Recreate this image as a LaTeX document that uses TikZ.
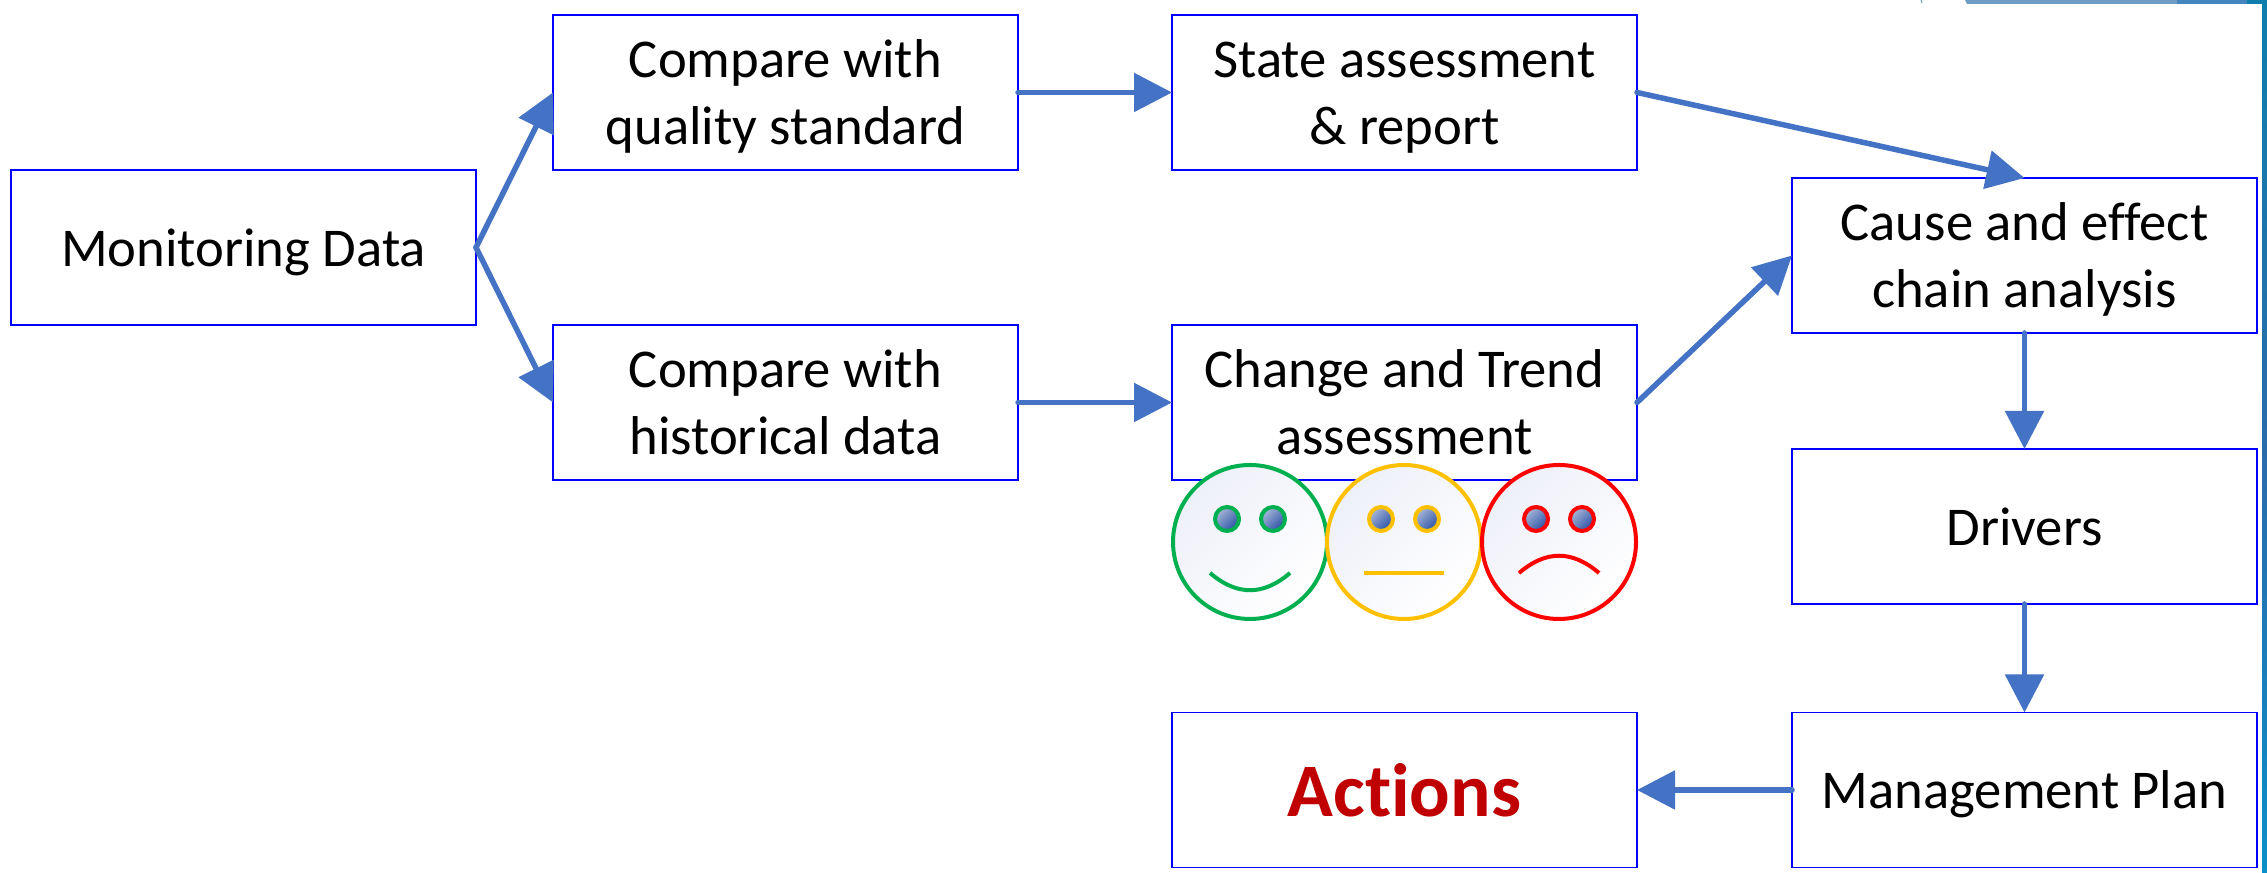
\documentclass[tikz,border=0pt]{standalone}
\usepackage{fontspec}
\setmainfont{Carlito}[Ligatures=NoCommon]
\usepackage{tikz}
\usetikzlibrary{arrows.meta}

\definecolor{flowblue}{HTML}{4472C4}
\definecolor{goodgreen}{HTML}{00B050}
\definecolor{midamber}{HTML}{FFC000}
\definecolor{actionred}{HTML}{C00000}
\definecolor{faceshade}{HTML}{EEF0F8}
\definecolor{eyelight}{HTML}{A9B8D8}
\definecolor{eyeblue}{HTML}{2A50A5}

% keep the baselines of all boxes at the same height
\newcommand{\uppad}{\rule{0pt}{14.6pt}}
\newcommand{\lowpad}{\rule[-4pt]{0pt}{4pt}}

\begin{document}
\begin{tikzpicture}
        \tikzstyle{stagebox}=[draw=blue,line width=0.015cm,fill=white,outer sep=0pt,inner sep=0pt,minimum width=4.65cm,minimum height=1.55cm,align=center,font=\fontsize{15.55}{18.9}\selectfont]
        \tikzstyle{flow}=[-{Triangle[length=0.38cm,width=0.38cm]},flowblue,line width=0.055cm,line cap=round]
        \useasboundingbox (0,0) rectangle (22.67,8.73);

        % window edge left over in the screenshot
        \fill[fill=white] (0,0) rectangle (22.67,8.73);
        \fill[color={rgb,255:red,111;green,156;blue,197}] (19.65,8.73) -- (19.67,8.69) -- (21.77,8.69) -- (21.77,8.73) -- cycle;
        \fill[color={rgb,255:red,69;green,133;blue,191}] (21.77,8.69) rectangle (22.47,8.73);
        \fill[color={rgb,255:red,14;green,127;blue,172}] (22.47,8.69) rectangle (22.67,8.73);
        \draw[color={rgb,255:red,111;green,156;blue,197},line width=0.01cm] (19.21,8.73) -- (19.22,8.70);
        \shade[top color={rgb,255:red,14;green,127;blue,172},middle color={rgb,255:red,80;green,134;blue,191},bottom color={rgb,255:red,42;green,106;blue,171}] (22.62,4.2) rectangle (22.67,8.69);
        \shade[top color={rgb,255:red,42;green,106;blue,171},bottom color={rgb,255:red,10;green,143;blue,200}] (22.62,0) rectangle (22.67,4.2);

        \node[stagebox] (data) at (2.435,6.255) {\uppad Monitoring Data\lowpad};
        \node[stagebox] (quality) at (7.855,7.805) {\uppad Compare with\\quality standard\lowpad};
        \node[stagebox] (history) at (7.855,4.705) {\uppad Compare with\\historical data\lowpad};
        \node[stagebox] (state) at (14.045,7.805) {\uppad State assessment\\\&\ report\lowpad};
        \node[stagebox] (trend) at (14.045,4.705) {\uppad Change and Trend\\assessment\lowpad};
        \node[stagebox] (cause) at (20.245,6.175) {\uppad Cause and effect\\chain analysis\lowpad};
        \node[stagebox] (drivers) at (20.245,3.465) {\uppad Drivers\lowpad};
        \node[stagebox] (plan) at (20.245,0.83) {\uppad Management Plan\lowpad};
        \node[stagebox,text=actionred,font=\fontsize{21.5}{25}\selectfont\bfseries] (actions) at (14.045,0.83) {\rule{0pt}{19pt}Actions\lowpad};

        \draw[flow] (data.east) -- (quality.west);
        \draw[flow] (data.east) -- (history.west);
        \draw[flow] (quality.east) -- (state.west);
        \draw[flow] (history.east) -- (trend.west);
        \draw[flow] (state.east) -- (cause.north);
        \draw[flow] (trend.east) -- (cause.west);
        \draw[flow] (cause.south) -- (drivers.north);
        \draw[flow] (drivers.south) -- (plan.north);
        \draw[flow] (plan.west) -- (actions.east);

        % the three faces: x position, colour, height of the middle of the mouth
        \foreach \x/\mood/\mouth in {12.50/goodgreen/-0.23, 14.04/midamber/0, 15.59/red/0.23} {
            \shade[top color=faceshade,bottom color=white,shading angle=45] (\x,3.31) circle (0.77cm);
            \draw[\mood,line width=0.04cm] (\x,3.31) circle (0.77cm);
            \foreach \side in {-0.23,0.23} {
                \shade[top color=eyelight,middle color=eyeblue,bottom color=eyeblue,shading angle=45] (\x+\side,3.54) circle (0.12cm);
                \draw[\mood,line width=0.04cm] (\x+\side,3.54) circle (0.12cm);
            }
            \draw[\mood,line width=0.04cm] (\x-0.4,3.0) .. controls (\x-0.13,3.0+\mouth) and (\x+0.13,3.0+\mouth) .. (\x+0.4,3.0);
        }
    \end{tikzpicture}
\end{document}
